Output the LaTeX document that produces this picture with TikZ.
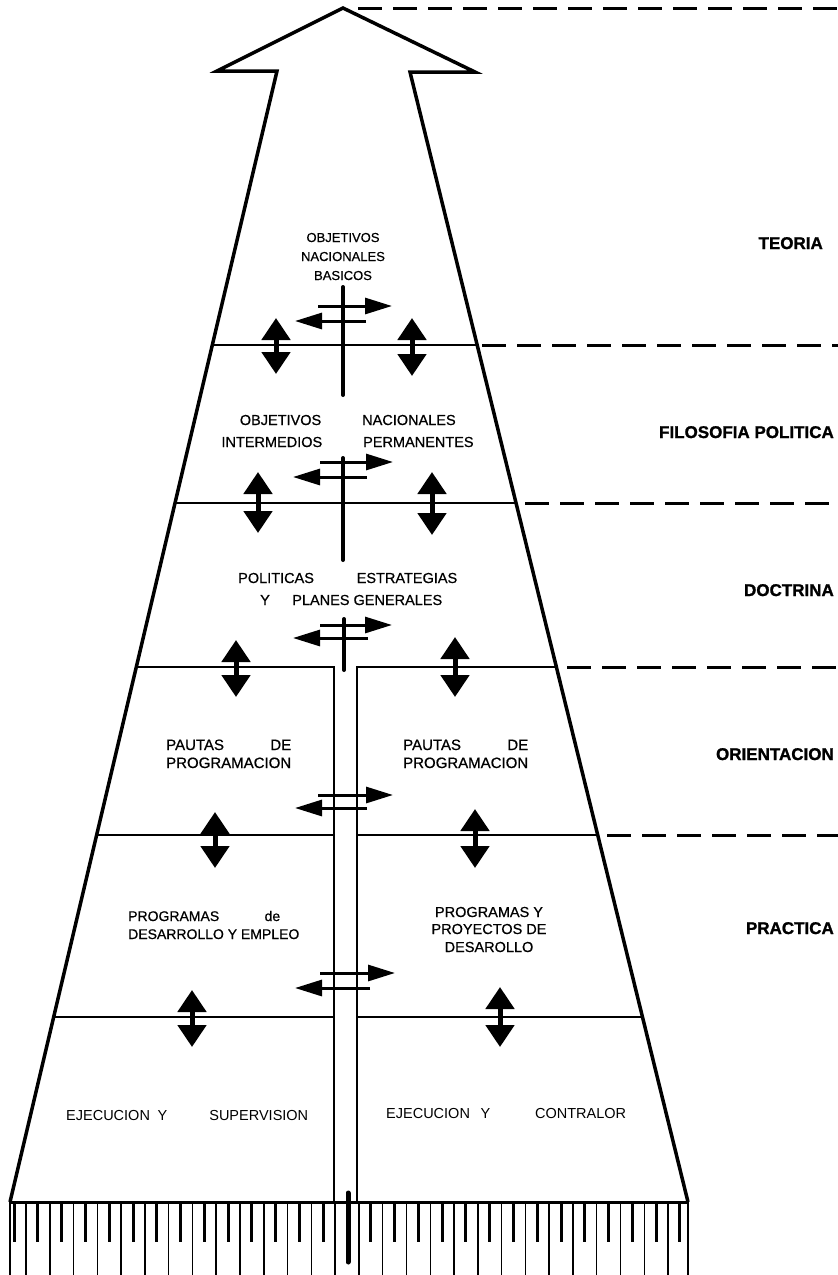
\documentclass[tikz,border=0pt]{standalone}
\usepackage{fontspec}
\setmainfont{Liberation Sans}
\newfontfamily\medfont{Liberation Sans}[FakeBold=0.6]
\newfontfamily\sidefont{Liberation Sans}[FakeBold=1.2]
\usetikzlibrary{arrows.meta}
\newcommand\pairtxt[3]{\makebox[0pt][r]{#1}\hspace{#3}\makebox[0pt][l]{#2}}
\begin{document}
\begin{tikzpicture}[x=1pt,y=-1pt,
  outline/.style={line width=3.5pt,line join=miter},
  divider/.style={line width=2.6pt},
  wall/.style={line width=2.2pt},
  centre/.style={line width=4pt,line cap=round},
  harrow/.style={line width=3pt,-{Triangle[width=16pt,length=27pt]}},
  varrow/.style={line width=5pt,{Triangle[width=28pt,length=22pt]}-{Triangle[width=28pt,length=22pt]}},
  dashline/.style={line width=3pt,dash pattern=on 24pt off 11pt},
  longtick/.style={line width=1.5pt},
  shorttick/.style={line width=3pt},
  lbl/.style={font=\medfont\fontsize{14.5}{17}\selectfont,inner sep=0pt},
  side/.style={font=\sidefont\bfseries\fontsize{17}{20}\selectfont,inner sep=0pt,anchor=base east}]
\useasboundingbox (0,0) rectangle (838,1275);
\fill[white] (0,0) rectangle (838,1275);

% big arrow outline
\draw[outline] (10,1202) -- (277,71) -- (217,71) -- (343,8) -- (475,72) -- (410,72) -- (688,1202);

% dividers
\draw[divider] (212.3,345) -- (477.2,345);
\draw[divider] (175,503) -- (516,503);
\draw[divider] (136.3,667) -- (334,667) -- (334,1202);
\draw[divider] (357,1202) -- (357,667) -- (556.4,667);
\draw[divider] (96.6,835) -- (334,835);
\draw[divider] (357,835) -- (597.7,835);
\draw[divider] (53.7,1017) -- (334,1017);
\draw[divider] (357,1017) -- (642.5,1017);

% central line pieces
\draw[centre] (343,287) -- (343,395);
\draw[centre] (343,458) -- (343,560);
\draw[centre] (344,619) -- (344,670);

% horizontal arrows
\draw[harrow] (318,306) -- (392,306);
\draw[harrow] (366,321) -- (295,321);
\draw[harrow] (320,462) -- (393,462);
\draw[harrow] (367,477) -- (293,477);
\draw[harrow] (320,625) -- (392,625);
\draw[harrow] (368,638) -- (293,638);
\draw[harrow] (318,795) -- (393,795);
\draw[harrow] (367,808) -- (295,808);
\draw[harrow] (320,973) -- (395,973);
\draw[harrow] (370,988) -- (295,988);

% vertical double arrows
\draw[varrow] (276,318) -- (276,374);
\draw[varrow] (412,318) -- (412,376);
\draw[varrow] (258,472) -- (258,533);
\draw[varrow] (432,472) -- (432,535);
\draw[varrow] (236,640) -- (236,697);
\draw[varrow] (455,637) -- (455,697);
\draw[varrow] (215,812) -- (215,868);
\draw[varrow] (475,809) -- (475,868);
\draw[varrow] (192,990) -- (192,1047);
\draw[varrow] (500,987) -- (500,1047);

% dashed level lines
\draw[dashline] (358,8) -- (838,8);
\draw[dashline] (482,345) -- (838,345);
\draw[dashline] (525,503) -- (838,503);
\draw[dashline] (567,667) -- (838,667);
\draw[dashline] (607,835) -- (838,835);

% ruler
\draw[line width=3pt] (10,1202) -- (688,1202);
\draw[line width=2.5pt] (10,1202) -- (10,1275);
\draw[line width=2.5pt] (688,1202) -- (688,1275);
\foreach \k in {0,...,27} \draw[longtick] ({26+23.78*\k},1202) -- ({26+23.78*\k},1275);
\foreach \k in {0,...,13,15,16,...,28} \draw[shorttick] ({14.1+23.78*\k},1202) -- ({14.1+23.78*\k},1242);
\draw[line width=5pt,line cap=round] (348,1193) -- (348,1262);

% texts
\node[lbl,font=\medfont\fontsize{13}{19}\selectfont,anchor=base] (t1) at (343,242) {OBJETIVOS};
\node[lbl,font=\medfont\fontsize{13}{19}\selectfont,anchor=base] (t2) at (343,261) {NACIONALES};
\node[lbl,font=\medfont\fontsize{13}{19}\selectfont,anchor=base] (t3) at (343,280) {BASICOS};

\node[lbl,anchor=base west] (s2a) at (321,425) {\pairtxt{OBJETIVOS}{NACIONALES}{41pt}};
\node[lbl,anchor=base west] (s2b) at (322,447) {\pairtxt{INTERMEDIOS}{PERMANENTES}{41pt}};

\node[lbl,anchor=base west] (s3a) at (238,583) {\hbox to 219pt{POLITICAS\hfill ESTRATEGIAS}};
\node[lbl,anchor=base west] (s3b) at (260,605) {\hbox to 182pt{Y\hfill PLANES GENERALES}};

\node[lbl,font=\medfont\fontsize{15}{18}\selectfont,anchor=base west] (s4a) at (166,750) {\hbox to 125pt{PAUTAS\hfill DE}};
\node[lbl,font=\medfont\fontsize{15}{18}\selectfont,anchor=base west] (s4b) at (166,768) {PROGRAMACION};
\node[lbl,font=\medfont\fontsize{15}{18}\selectfont,anchor=base west] (s4c) at (403,750) {\hbox to 125pt{PAUTAS\hfill DE}};
\node[lbl,font=\medfont\fontsize{15}{18}\selectfont,anchor=base west] (s4d) at (403,768) {PROGRAMACION};

\node[lbl,font=\medfont\fontsize{14}{17}\selectfont,anchor=base west] (s5a) at (128,921) {\hbox to 152pt{PROGRAMAS\hfill de}};
\node[lbl,font=\medfont\fontsize{14}{17}\selectfont,anchor=base west] (s5b) at (128,939) {DESARROLLO Y EMPLEO};
\node[lbl,anchor=base] (s5c) at (489,917) {PROGRAMAS Y};
\node[lbl,anchor=base] (s5d) at (489,934) {PROYECTOS DE};
\node[lbl,anchor=base] (s5e) at (489,952) {DESAROLLO};

\node[lbl,font=\fontsize{14.5}{17}\selectfont,anchor=base west] (s6a) at (66,1120) {\hbox to 242pt{\hbox to 101pt{EJECUCION\hfill Y}\hfill SUPERVISION}};
\node[lbl,font=\fontsize{14.5}{17}\selectfont,anchor=base west] (s6b) at (386,1118) {\hbox to 240pt{\hbox to 104pt{EJECUCION\hfill Y}\hfill CONTRALOR}};

\node[side] (r1) at (823,249) {TEORIA};
\node[side] (r2) at (834,438) {FILOSOFIA POLITICA};
\node[side] (r3) at (834,596) {DOCTRINA};
\node[side] (r4) at (834,760) {ORIENTACION};
\node[side] (r5) at (834,934) {PRACTICA};
\end{tikzpicture}
\end{document}
